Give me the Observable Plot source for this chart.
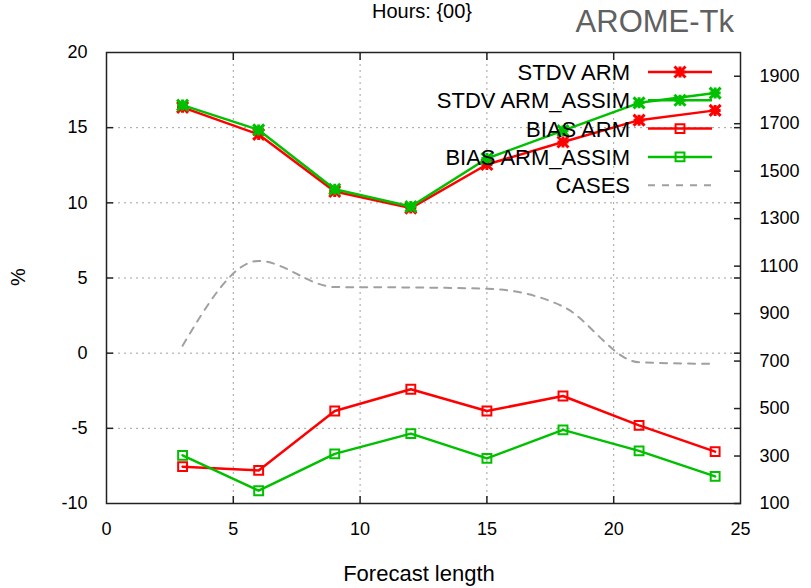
<!DOCTYPE html>
<html><head><meta charset="utf-8">
<script src="https://cdn.jsdelivr.net/npm/d3@7"></script>
<script src="https://cdn.jsdelivr.net/npm/@observablehq/plot@0.6"></script>
<style>
body{margin:0;background:#fff;}
#wrap{position:relative;width:811px;height:588px;overflow:hidden;background:#fff;}
#wrap svg{position:absolute;left:0;top:0;}
</style></head><body><div id="wrap"></div>
<script>
// ---- data ----
const forecastLength = [3, 6, 9, 12, 15, 18, 21, 24];
const stdvArm       = [16.35, 14.55, 10.75, 9.65, 12.55, 14.05, 15.5, 16.15];
const stdvArmAssim  = [16.5, 14.85, 10.9, 9.75, 12.95, 14.8, 16.65, 17.3];
const biasArm       = [-7.55, -7.8, -3.85, -2.4, -3.85, -2.85, -4.8, -6.55];
const biasArmAssim  = [-6.8, -9.15, -6.7, -5.35, -7.0, -5.1, -6.5, -8.2];
const cases         = [765, 1122, 1012, 1010, 1005, 930, 695, 688];
const xTicks  = [0, 5, 10, 15, 20, 25];
const yTicks  = [-10, -5, 0, 5, 10, 15, 20];
const y2Ticks = [100, 300, 500, 700, 900, 1100, 1300, 1500, 1700, 1900];
const seriesNames = ["STDV ARM", "STDV ARM_ASSIM", "BIAS ARM", "BIAS ARM_ASSIM", "CASES"];
const titleText = "Hours: {00}";
const brandText = "AROME-Tk";
const xLabel = "Forecast length";
const yLabel = "%";

// ---- scales helpers ----
const yDomain = [-10, 20], y2Domain = [100, 2000];
const toY = v => yDomain[0] + (v - y2Domain[0]) * (yDomain[1] - yDomain[0]) / (y2Domain[1] - y2Domain[0]);
const fromY = y => y2Domain[0] + (y - yDomain[0]) * (y2Domain[1] - y2Domain[0]) / (yDomain[1] - yDomain[0]);

const RED = "#ff0000", GREEN = "#00c000", GRAY = "#a0a0a0";
const FONT = '"Liberation Sans", Arial, sans-serif';

const asterisk = {draw(ctx, size) {
  const r = Math.sqrt(size / Math.PI);
  ctx.moveTo(-r, 0); ctx.lineTo(r, 0);
  ctx.moveTo(0, -r); ctx.lineTo(0, r);
  ctx.moveTo(-r, -r); ctx.lineTo(r, r);
  ctx.moveTo(-r, r); ctx.lineTo(r, -r);
}};

const mk = (ys) => forecastLength.map((x, i) => ({x, y: ys[i]}));
const dStdvArm = mk(stdvArm), dStdvAssim = mk(stdvArmAssim);
const dBiasArm = mk(biasArm), dBiasAssim = mk(biasArmAssim);
const dCases = forecastLength.map((x, i) => ({x, y: toY(cases[i])}));

const W = 811, H = 588, mL = 106, mR = 71, mT = 52, mB = 85;
const TK = 7;
const tickStyle = {tickSize: TK, text: null, label: null, stroke: "#222", strokeWidth: 1.5};

const chart = Plot.plot({
  width: W, height: H,
  marginLeft: mL, marginRight: mR, marginTop: mT, marginBottom: mB,
  x: {domain: [0, 25]},
  y: {domain: yDomain},
  style: {fontFamily: FONT, fontSize: "18px", color: "#000", background: "transparent", overflow: "visible"},
  marks: [
    Plot.gridX({ticks: [5, 10, 15, 20], stroke: GRAY, strokeOpacity: 1, strokeDasharray: "2,4"}),
    Plot.gridY({ticks: [-5, 0, 5, 10, 15], stroke: GRAY, strokeOpacity: 1, strokeDasharray: "2,4"}),
    // tick labels
    Plot.axisX({ticks: xTicks, tickSize: 0, tickPadding: 19, label: null, tickFormat: d => String(d)}),
    Plot.axisY({ticks: yTicks, tickSize: 0, tickPadding: 19, label: null, tickFormat: d => String(d)}),
    Plot.axisY(y2Ticks.map(toY), {anchor: "right", tickSize: 0, tickPadding: 19, label: null, tickFormat: d => String(Math.round(fromY(d)))}),
    // inward tick marks
    Plot.axisX({ticks: [5, 10, 15, 20], anchor: "bottom", dy: -TK, ...tickStyle}),
    Plot.axisX({ticks: [5, 10, 15, 20], anchor: "top", dy: TK, ...tickStyle}),
    Plot.axisY({ticks: [-5, 0, 5, 10, 15], anchor: "left", dx: TK, ...tickStyle}),
    Plot.axisY({ticks: [-5, 0, 5, 10, 15], anchor: "right", dx: -TK, ...tickStyle}),
    Plot.axisY(y2Ticks.map(toY), {anchor: "right", dx: -TK, ...tickStyle}),
    // CASES
    Plot.line(dCases, {x: "x", y: "y", stroke: GRAY, strokeWidth: 2, strokeDasharray: "7,7", curve: "monotone-x"}),
    // BIAS
    Plot.line(dBiasArm, {x: "x", y: "y", stroke: RED, strokeWidth: 2.5}),
    Plot.dot(dBiasArm, {x: "x", y: "y", stroke: RED, strokeWidth: 2, symbol: "square", r: 5, fill: "none"}),
    Plot.line(dBiasAssim, {x: "x", y: "y", stroke: GREEN, strokeWidth: 2.5}),
    Plot.dot(dBiasAssim, {x: "x", y: "y", stroke: GREEN, strokeWidth: 2, symbol: "square", r: 5, fill: "none"}),
    // STDV
    Plot.line(dStdvArm, {x: "x", y: "y", stroke: RED, strokeWidth: 2.5}),
    Plot.dot(dStdvArm, {x: "x", y: "y", stroke: RED, strokeWidth: 3, symbol: asterisk, r: 5.5, fill: "none"}),
    Plot.line(dStdvAssim, {x: "x", y: "y", stroke: GREEN, strokeWidth: 2.5}),
    Plot.dot(dStdvAssim, {x: "x", y: "y", stroke: GREEN, strokeWidth: 3, symbol: asterisk, r: 5.5, fill: "none"}),
    Plot.frame({stroke: "#222", strokeWidth: 1.5})
  ]
});
const wrap = document.getElementById("wrap");
wrap.appendChild(chart);

// ---- overlay: titles, axis names, legend ----
const ov = d3.select(wrap).append("svg").attr("width", W).attr("height", H)
  .style("font-family", FONT);
ov.append("text").attr("x", 422).attr("y", 18).attr("text-anchor", "middle")
  .attr("font-size", 20).attr("fill", "#000").text(titleText);
ov.append("text").attr("x", 734).attr("y", 32).attr("text-anchor", "end")
  .attr("font-size", 31).attr("fill", "#606060").text(brandText);
ov.append("text").attr("x", 419).attr("y", 581).attr("text-anchor", "middle")
  .attr("font-size", 22).attr("fill", "#000").text(xLabel);
ov.append("text").attr("transform", "translate(25,277) rotate(-90)").attr("text-anchor", "middle")
  .attr("font-size", 20).attr("fill", "#000").text(yLabel);

const legendStyles = [
  {stroke: RED, sym: asterisk, dash: null},
  {stroke: GREEN, sym: asterisk, dash: null},
  {stroke: RED, sym: d3.symbolSquare, dash: null},
  {stroke: GREEN, sym: d3.symbolSquare, dash: null},
  {stroke: GRAY, sym: null, dash: "7,7"}
];
seriesNames.forEach((name, i) => {
  const yy = 72 + i * 28.3;
  const s = legendStyles[i];
  ov.append("text").attr("x", 630).attr("y", yy).attr("dy", "0.36em").attr("text-anchor", "end")
    .attr("font-size", 22).attr("fill", "#000").text(name);
  ov.append("line").attr("x1", 648).attr("x2", 712).attr("y1", yy).attr("y2", yy)
    .attr("stroke", s.stroke).attr("stroke-width", s.dash ? 2 : 2.5).attr("stroke-dasharray", s.dash);
  if (s.sym) {
    const isA = s.sym === asterisk;
    ov.append("path").attr("transform", `translate(680,${yy})`)
      .attr("d", d3.symbol(s.sym, (isA ? 30.25 : 25) * Math.PI)()).attr("fill", "none")
      .attr("stroke", s.stroke).attr("stroke-width", isA ? 3 : 2);
  }
});
</script></body></html>
